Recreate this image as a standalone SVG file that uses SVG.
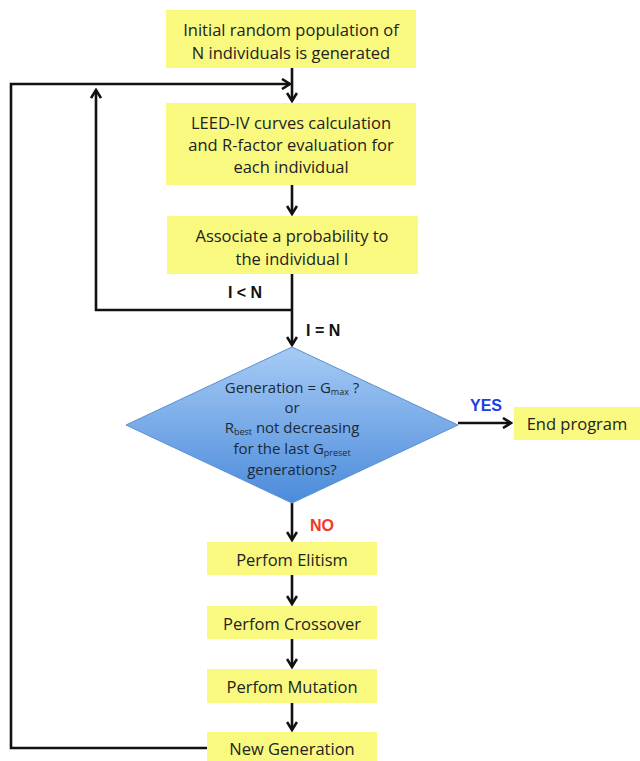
<svg xmlns="http://www.w3.org/2000/svg" width="640" height="761" viewBox="0 0 640 761">
<defs>
<linearGradient id="dg" x1="0" y1="0" x2="0" y2="1">
<stop offset="0" stop-color="#a7cbf5"/>
<stop offset="1" stop-color="#4b8bdb"/>
</linearGradient>
<marker id="ah" markerWidth="12" markerHeight="12" viewBox="0 0 12 12" refX="10" refY="6" orient="auto" markerUnits="userSpaceOnUse">
<path d="M2,1 L10,6 L2,11" fill="none" stroke="#111" stroke-width="2.6"/>
</marker>
<style>
.box{fill:#f9f97f}
.t{font-family:"Open Sans","Liberation Sans",sans-serif;font-size:16.5px;fill:#222;text-anchor:middle}
.dt{font-family:"Open Sans","Liberation Sans",sans-serif;font-size:15px;fill:#1a2a3a;text-anchor:middle}
.lb{font-family:"Liberation Sans",Arial,sans-serif;font-size:16px;font-weight:bold}
.c{fill:none;stroke:#111;stroke-width:2.6}
</style>
</defs>
<rect width="640" height="761" fill="#fff"/>
<g id="connectors">
<path class="c" d="M292,68 V101" marker-end="url(#ah)"/>
<path class="c" d="M207,748 H11 V84 H290" marker-end="url(#ah)"/>
<path class="c" d="M292,185 V214" marker-end="url(#ah)"/>
<path class="c" d="M292,274 V345" marker-end="url(#ah)"/>
<path class="c" d="M292,310 H96 V90" marker-end="url(#ah)"/>
<path class="c" d="M458,423 H511" marker-end="url(#ah)"/>
<path class="c" d="M292,503 V540" marker-end="url(#ah)"/>
<path class="c" d="M292,575 V604" marker-end="url(#ah)"/>
<path class="c" d="M292,639 V667" marker-end="url(#ah)"/>
<path class="c" d="M292,703 V730" marker-end="url(#ah)"/>
<text class="lb" x="245" y="298" text-anchor="middle" fill="#111">I &lt; N</text>
<text class="lb" x="306" y="336" fill="#111">I = N</text>
<text class="lb" x="470" y="411" fill="#1a3ee8">YES</text>
<text class="lb" x="310" y="531" fill="#f03a24">NO</text>
</g>
<g id="init">
<rect class="box" x="166" y="10" width="250" height="58"/>
<text class="t" x="291" y="36">Initial random population of</text>
<text class="t" x="291" y="59">N individuals is generated</text>
</g>
<g id="leed">
<rect class="box" x="166" y="103" width="250" height="82"/>
<text class="t" x="291" y="129">LEED-IV curves calculation</text>
<text class="t" x="291" y="151">and R-factor evaluation for</text>
<text class="t" x="291" y="173">each individual</text>
</g>
<g id="assoc">
<rect class="box" x="167" y="216" width="251" height="58"/>
<text class="t" x="292" y="242">Associate a probability to</text>
<text class="t" x="292" y="265">the individual I</text>
</g>
<g id="decision">
<polygon points="292,347 458,425 292,503 126,425" fill="url(#dg)" stroke="#5a8fd0" stroke-width="1"/>
<text class="dt" x="292" y="393">Generation = G<tspan font-size="9" dy="2">max</tspan><tspan dy="-2"> ?</tspan></text>
<text class="dt" x="292" y="413">or</text>
<text class="dt" x="292" y="433">R<tspan font-size="9" dy="2">best</tspan><tspan dy="-2"> not decreasing</tspan></text>
<text class="dt" x="292" y="454">for the last G<tspan font-size="9" dy="2">preset</tspan></text>
<text class="dt" x="292" y="475">generations?</text>
</g>
<g id="end">
<rect class="box" x="514" y="407" width="126" height="33"/>
<text class="t" x="577" y="430">End program</text>
</g>
<g id="elitism">
<rect class="box" x="207" y="542" width="170" height="33"/>
<text class="t" x="292" y="566">Perfom Elitism</text>
</g>
<g id="crossover">
<rect class="box" x="207" y="606" width="170" height="33"/>
<text class="t" x="292" y="630">Perfom Crossover</text>
</g>
<g id="mutation">
<rect class="box" x="207" y="669" width="170" height="34"/>
<text class="t" x="292" y="693">Perfom Mutation</text>
</g>
<g id="newgen">
<rect class="box" x="207" y="732" width="170" height="34"/>
<text class="t" x="292" y="755">New Generation</text>
</g>
</svg>
